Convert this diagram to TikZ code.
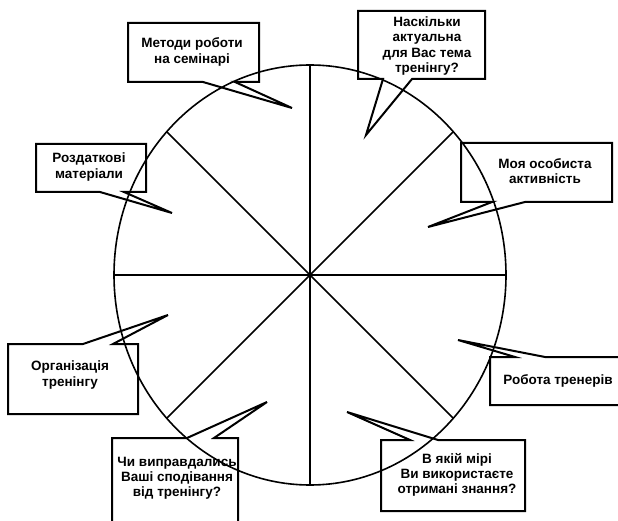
\documentclass[tikz,border=0pt]{standalone}
\usepackage{fontspec}
\setmainfont{Liberation Sans}

\begin{document}
\begin{tikzpicture}[
    x=1pt, y=-1pt,
    wheel/.style={line width=1.6pt},
    bubble/.style={line width=2pt, line join=miter},
    note/.style={align=center, inner sep=0pt, font=\fontsize{13.5}{15.2}\selectfont\bfseries}
]
\useasboundingbox (0,0) rectangle (618,521);
\clip (0,0) rectangle (618,521);

% Коло і сектори
\coordinate (c) at (310,275);
\draw[wheel] (c) ellipse [x radius=196pt, y radius=210pt];
\foreach \dx/\dy in {196/0, 0/210, 143.3/143.3, 143.3/-143.3}
    \draw[wheel] ({310-\dx},{275-\dy}) -- ({310+\dx},{275+\dy});

% Виноски
\draw[bubble] (203,82) -- (128,82) -- (128,23) -- (259,23) -- (259,82) -- (235,82) -- (292,108) -- cycle;
\draw[bubble] (383,79) -- (358,79) -- (358,11) -- (485,11) -- (485,79) -- (412,79) -- (366,135) -- cycle;
\draw[bubble] (100,192) -- (36,192) -- (36,144) -- (146,144) -- (146,192) -- (124,192) -- (172,213) -- cycle;
\draw[bubble] (492,202) -- (461,202) -- (461,143) -- (612,143) -- (612,202) -- (525,202) -- (428,227) -- cycle;
\draw[bubble] (83,344) -- (8,344) -- (8,414) -- (138,414) -- (138,344) -- (113,344) -- (168,315) -- cycle;
\draw[bubble] (515,357) -- (490,357) -- (490,405) -- (625,405) -- (625,357) -- (545,357) -- (458,340) -- cycle;
\draw[bubble] (187,438) -- (112,438) -- (112,530) -- (238,530) -- (238,438) -- (214,438) -- (267,402) -- cycle;
\draw[bubble] (410,440) -- (381,440) -- (381,511) -- (525,511) -- (525,440) -- (438,440) -- (347,412) -- cycle;

% Тексти
\node[note] (metody) at (192,52) {Методи роботи\\на семінарі};
\node[note] (aktual) at (427,46) {Наскільки\\актуальна\\для Вас тема\\тренінгу?};
\node[note] (rozdat) at (89,167) {Роздаткові\\матеріали};
\node[note] (aktyv) at (545,171) {Моя особиста\\активність};
\node[note] (orhan) at (70,375) {Організація\\тренінгу};
\node[note] (robota) at (558,381) {Робота тренерів};
\node[note] (spodiv) at (177,478) {Чи виправдались\\Ваші сподівання\\від тренінгу?};
\node[note] (znannia) at (457,475) {В якій мірі\\Ви використаєте\\отримані знання?};

\end{tikzpicture}
\end{document}
